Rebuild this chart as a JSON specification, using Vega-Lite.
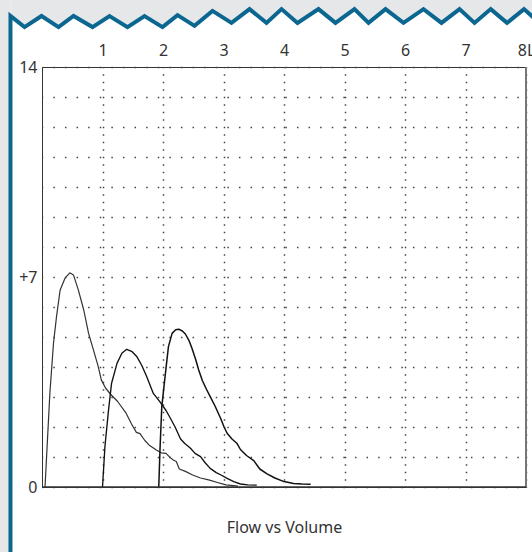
{
  "$schema": "https://vega.github.io/schema/vega-lite/v6.json",
  "width": 484,
  "height": 420,
  "autosize": {"type": "none"},
  "padding": {"left": 42, "top": 67, "right": 6, "bottom": 65},
  "background": "white",
  "config": {"view": {"stroke": "#333333", "strokeWidth": 1}, "font": "Noto Sans"},
  "resolve": {"axis": {"x": "independent", "y": "independent"}},
  "datasets": {
    "zig": [
      {"k": 0, "x": -0.521, "y": -2.3},
      {"k": 1, "x": -0.521, "y": 15.7},
      {"k": 2, "x": -0.289, "y": 15.33},
      {"k": 3, "x": -0.008, "y": 15.7},
      {"k": 4, "x": 0.273, "y": 15.33},
      {"k": 5, "x": 0.521, "y": 15.7},
      {"k": 6, "x": 0.835, "y": 15.33},
      {"k": 7, "x": 1.116, "y": 15.7},
      {"k": 8, "x": 1.413, "y": 15.33},
      {"k": 9, "x": 1.694, "y": 15.7},
      {"k": 10, "x": 1.992, "y": 15.33},
      {"k": 11, "x": 2.24, "y": 15.73},
      {"k": 12, "x": 2.521, "y": 15.37},
      {"k": 13, "x": 2.818, "y": 15.87},
      {"k": 14, "x": 3.132, "y": 15.47},
      {"k": 15, "x": 3.43, "y": 15.93},
      {"k": 16, "x": 3.711, "y": 15.47},
      {"k": 17, "x": 3.959, "y": 15.93},
      {"k": 18, "x": 4.223, "y": 15.47},
      {"k": 19, "x": 4.57, "y": 15.93},
      {"k": 20, "x": 4.851, "y": 15.47},
      {"k": 21, "x": 5.165, "y": 15.93},
      {"k": 22, "x": 5.397, "y": 15.47},
      {"k": 23, "x": 5.678, "y": 15.93},
      {"k": 24, "x": 5.975, "y": 15.47},
      {"k": 25, "x": 6.306, "y": 15.93},
      {"k": 26, "x": 6.603, "y": 15.47},
      {"k": 27, "x": 6.901, "y": 15.93},
      {"k": 28, "x": 7.149, "y": 15.47},
      {"k": 29, "x": 7.417, "y": 15.93},
      {"k": 30, "x": 7.686, "y": 15.47},
      {"k": 31, "x": 7.967, "y": 15.93},
      {"k": 32, "x": 8.223, "y": 15.47}
    ],
    "curves": [
      {"trial": "1", "x": 0.05, "y": 0},
      {"trial": "1", "x": 0.13, "y": 3.12},
      {"trial": "1", "x": 0.19, "y": 4.79},
      {"trial": "1", "x": 0.24, "y": 5.68},
      {"trial": "1", "x": 0.3, "y": 6.57},
      {"trial": "1", "x": 0.38, "y": 6.96},
      {"trial": "1", "x": 0.46, "y": 7.14},
      {"trial": "1", "x": 0.52, "y": 7.07},
      {"trial": "1", "x": 0.6, "y": 6.57},
      {"trial": "1", "x": 0.69, "y": 5.9},
      {"trial": "1", "x": 0.77, "y": 5.12},
      {"trial": "1", "x": 0.85, "y": 4.57},
      {"trial": "1", "x": 0.93, "y": 4.01},
      {"trial": "1", "x": 0.98, "y": 3.57},
      {"trial": "1", "x": 1.05, "y": 3.3},
      {"trial": "1", "x": 1.13, "y": 3.1},
      {"trial": "1", "x": 1.25, "y": 2.85},
      {"trial": "1", "x": 1.39, "y": 2.46},
      {"trial": "1", "x": 1.48, "y": 2.1},
      {"trial": "1", "x": 1.56, "y": 1.82},
      {"trial": "1", "x": 1.62, "y": 1.78},
      {"trial": "1", "x": 1.7, "y": 1.55},
      {"trial": "1", "x": 1.78, "y": 1.38},
      {"trial": "1", "x": 1.89, "y": 1.23},
      {"trial": "1", "x": 1.97, "y": 1.14},
      {"trial": "1", "x": 2.05, "y": 1.12},
      {"trial": "1", "x": 2.12, "y": 0.98},
      {"trial": "1", "x": 2.17, "y": 0.9},
      {"trial": "1", "x": 2.22, "y": 0.85},
      {"trial": "1", "x": 2.27, "y": 0.6},
      {"trial": "1", "x": 2.37, "y": 0.52},
      {"trial": "1", "x": 2.49, "y": 0.4},
      {"trial": "1", "x": 2.62, "y": 0.3},
      {"trial": "1", "x": 2.77, "y": 0.23},
      {"trial": "1", "x": 2.9, "y": 0.15},
      {"trial": "1", "x": 3.04, "y": 0.07},
      {"trial": "1", "x": 3.24, "y": 0.03},
      {"trial": "2", "x": 1.0, "y": 0},
      {"trial": "2", "x": 1.04, "y": 1.34},
      {"trial": "2", "x": 1.1, "y": 2.57},
      {"trial": "2", "x": 1.15, "y": 3.46},
      {"trial": "2", "x": 1.24, "y": 4.12},
      {"trial": "2", "x": 1.32, "y": 4.46},
      {"trial": "2", "x": 1.4, "y": 4.59},
      {"trial": "2", "x": 1.49, "y": 4.51},
      {"trial": "2", "x": 1.57, "y": 4.34},
      {"trial": "2", "x": 1.65, "y": 4.05},
      {"trial": "2", "x": 1.73, "y": 3.68},
      {"trial": "2", "x": 1.84, "y": 3.12},
      {"trial": "2", "x": 1.95, "y": 2.84},
      {"trial": "2", "x": 2.05, "y": 2.55},
      {"trial": "2", "x": 2.12, "y": 2.3},
      {"trial": "2", "x": 2.2, "y": 2.0},
      {"trial": "2", "x": 2.29, "y": 1.6},
      {"trial": "2", "x": 2.36, "y": 1.45},
      {"trial": "2", "x": 2.45, "y": 1.3},
      {"trial": "2", "x": 2.53, "y": 1.12},
      {"trial": "2", "x": 2.62, "y": 1.01},
      {"trial": "2", "x": 2.7, "y": 0.8},
      {"trial": "2", "x": 2.78, "y": 0.62},
      {"trial": "2", "x": 2.88, "y": 0.48},
      {"trial": "2", "x": 2.96, "y": 0.4},
      {"trial": "2", "x": 3.06, "y": 0.29},
      {"trial": "2", "x": 3.17, "y": 0.18},
      {"trial": "2", "x": 3.28, "y": 0.1},
      {"trial": "2", "x": 3.4, "y": 0.07},
      {"trial": "2", "x": 3.55, "y": 0.06},
      {"trial": "3", "x": 1.93, "y": 0},
      {"trial": "3", "x": 1.95, "y": 1.23},
      {"trial": "3", "x": 1.98, "y": 2.68},
      {"trial": "3", "x": 2.04, "y": 3.79},
      {"trial": "3", "x": 2.09, "y": 4.68},
      {"trial": "3", "x": 2.15, "y": 5.12},
      {"trial": "3", "x": 2.21, "y": 5.24},
      {"trial": "3", "x": 2.26, "y": 5.26},
      {"trial": "3", "x": 2.32, "y": 5.2},
      {"trial": "3", "x": 2.37, "y": 5.1},
      {"trial": "3", "x": 2.43, "y": 4.88},
      {"trial": "3", "x": 2.48, "y": 4.62},
      {"trial": "3", "x": 2.54, "y": 4.25},
      {"trial": "3", "x": 2.59, "y": 3.9},
      {"trial": "3", "x": 2.65, "y": 3.55},
      {"trial": "3", "x": 2.72, "y": 3.25},
      {"trial": "3", "x": 2.78, "y": 3.01},
      {"trial": "3", "x": 2.86, "y": 2.7},
      {"trial": "3", "x": 2.95, "y": 2.3},
      {"trial": "3", "x": 3.01, "y": 2.0},
      {"trial": "3", "x": 3.06, "y": 1.79},
      {"trial": "3", "x": 3.14, "y": 1.6},
      {"trial": "3", "x": 3.22, "y": 1.46},
      {"trial": "3", "x": 3.28, "y": 1.25},
      {"trial": "3", "x": 3.38, "y": 1.05},
      {"trial": "3", "x": 3.5, "y": 0.88},
      {"trial": "3", "x": 3.6, "y": 0.6},
      {"trial": "3", "x": 3.72, "y": 0.44},
      {"trial": "3", "x": 3.85, "y": 0.3},
      {"trial": "3", "x": 4.0, "y": 0.18},
      {"trial": "3", "x": 4.16, "y": 0.12},
      {"trial": "3", "x": 4.3, "y": 0.1},
      {"trial": "3", "x": 4.44, "y": 0.09}
    ]
  },
  "layer": [
    {
      "data": {"name": "curves"},
      "mark": {"type": "line", "clip": false, "strokeJoin": "round"},
      "encoding": {
        "x": {
          "field": "x", "type": "quantitative",
          "scale": {"domain": [0, 8], "nice": false, "zero": false},
          "axis": {
            "orient": "top", "values": [1, 2, 3, 4, 5, 6, 7, 8], "format": "d",
            "labelExpr": "datum.value == 8 ? '8L' : datum.label",
            "title": null, "domain": false, "ticks": false,
            "labelPadding": 9, "labelFontSize": 16, "labelColor": "#333333", "labelFont": "Noto Sans",
            "labelFlush": false, "labelOverlap": false,
            "grid": true, "gridColor": "#444444", "gridWidth": 1.5, "gridDash": [1.5, 6], "gridDashOffset": 0.75
          }
        },
        "y": {
          "field": "y", "type": "quantitative",
          "scale": {"domain": [0, 14], "nice": false, "zero": false},
          "axis": {
            "values": [0, 1, 2, 3, 4, 5, 6, 7, 8, 9, 10, 11, 12, 13, 14], "format": "d",
            "labelExpr": "datum.value == 7 ? '+7' : (datum.value == 0 || datum.value == 14 ? datum.label : '')",
            "title": null, "domain": false, "ticks": false,
            "labelPadding": 5, "labelFontSize": 16, "labelColor": "#333333", "labelFont": "Noto Sans",
            "labelFlush": false, "labelOverlap": false,
            "grid": true, "gridColor": "#444444", "gridWidth": 1.5, "gridDash": [1.5, 10.1], "gridDashOffset": 0.75
          }
        },
        "color": {"field": "trial", "type": "nominal", "scale": {"domain": ["1", "2", "3"], "range": ["#333333", "#111111", "#111111"]}, "legend": null},
        "strokeWidth": {"field": "trial", "type": "ordinal", "scale": {"domain": ["1", "2", "3"], "range": [1.2, 1.5, 1.5]}, "legend": null}
      }
    },
    {
      "data": {"values": [{}]},
      "mark": {"type": "rect", "color": "#e6e7e8", "clip": false},
      "encoding": {
        "x": {
          "datum": -1, "type": "quantitative",
          "axis": {
            "orient": "bottom", "labels": false, "ticks": false, "domain": false, "grid": false, "values": [],
            "title": "Flow vs Volume", "titleFont": "Noto Sans", "titleFontSize": 16, "titleFontWeight": "normal",
            "titleColor": "#333333", "titlePadding": 32
          }
        },
        "x2": {"datum": -0.521},
        "y": {"datum": -2.3, "type": "quantitative", "axis": null},
        "y2": {"datum": 17}
      }
    },
    {
      "data": {"name": "zig"},
      "transform": [{"filter": "datum.k > 0"}],
      "mark": {"type": "area", "color": "#e6e7e8", "clip": false},
      "encoding": {
        "x": {"field": "x", "type": "quantitative", "axis": null},
        "y": {"field": "y", "type": "quantitative", "axis": null},
        "y2": {"datum": 17}
      }
    },
    {
      "data": {"name": "zig"},
      "mark": {"type": "line", "color": "#0b6790", "strokeWidth": 4, "strokeJoin": "miter", "clip": false},
      "encoding": {
        "x": {"field": "x", "type": "quantitative", "axis": null},
        "y": {"field": "y", "type": "quantitative", "axis": null},
        "order": {"field": "k", "type": "quantitative"}
      }
    },
    {
      "data": {"values": [{}]},
      "mark": {"type": "rule", "color": "#777777", "strokeWidth": 2},
      "encoding": {
        "x": {"datum": 8, "type": "quantitative", "axis": null}
      }
    },
    {
      "data": {"values": [{}]},
      "mark": {"type": "rule", "color": "#333333", "strokeWidth": 1.5},
      "encoding": {
        "y": {"datum": 0, "type": "quantitative", "axis": null}
      }
    }
  ]
}
